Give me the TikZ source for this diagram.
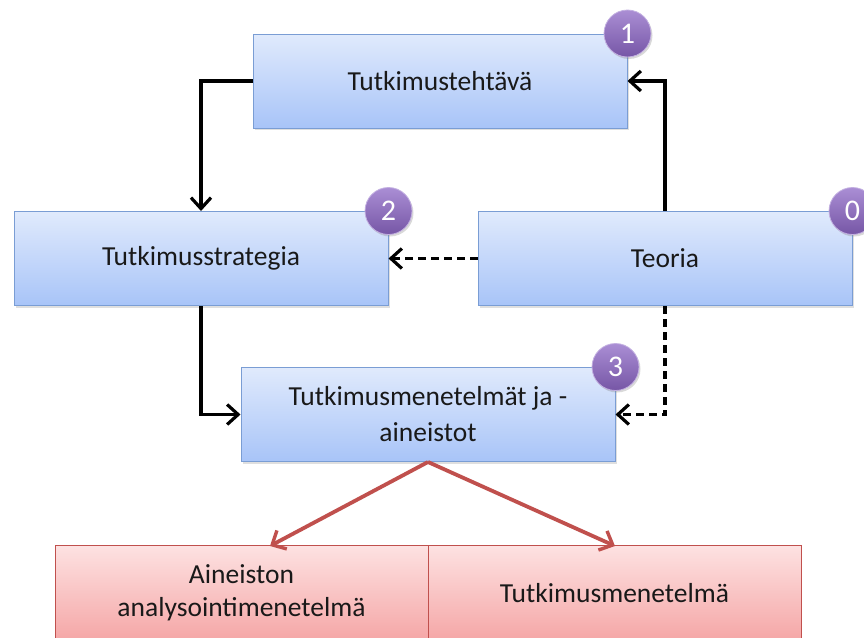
\documentclass[tikz,border=0pt]{standalone}
\usepackage{fontspec}
\setmainfont{Carlito}
\usetikzlibrary{arrows.meta,shadows}

\definecolor{boxtop}{HTML}{E0EAFC}
\definecolor{boxbot}{HTML}{A8C4F8}
\definecolor{boxline}{HTML}{7A9DD4}
\definecolor{redtop}{HTML}{FDE2E2}
\definecolor{redbot}{HTML}{F5A6A6}
\definecolor{redline}{HTML}{C0504D}
\definecolor{redarrow}{HTML}{C0504D}
\definecolor{badgetop}{HTML}{AA8ED4}
\definecolor{badgebot}{HTML}{7656A6}

\tikzset{
  bluebox/.style={draw=boxline, line width=1pt, top color=boxtop, bottom color=boxbot,
    minimum width=374pt, minimum height=94pt, inner sep=0pt, align=center,
    font=\fontsize{27.5}{36}\selectfont, text=black!90,
    drop shadow={opacity=0.25, shadow xshift=1.5pt, shadow yshift=-2pt}},
  redbox/.style={draw=redline, line width=1pt, top color=redtop, bottom color=redbot,
    minimum width=373pt, minimum height=96pt, inner sep=0pt, align=center,
    font=\fontsize{27.5}{33}\selectfont, text=black!90},
  badge/.style={circle, minimum size=47pt, inner sep=0pt, top color=badgetop, bottom color=badgebot,
    draw=badgetop!70!white, line width=0.8pt, text=white, font=\fontsize{30}{32}\selectfont,
    drop shadow={opacity=0.3, shadow xshift=1.5pt, shadow yshift=-2pt}},
  flow/.style={line width=3.4pt, black, -{Straight Barb[length=11pt,width=20pt,line width=3.2pt]}},
  dflow/.style={flow, dash pattern=on 8pt off 5pt},
  split/.style={line width=3.8pt, redarrow, -{Straight Barb[length=11pt,width=21pt,line width=3.4pt]}},
}

\begin{document}
\begin{tikzpicture}[x=1pt, y=-1pt]
  \useasboundingbox (0,0) rectangle (864,637);
  \clip (0,0) rectangle (864,637);

  % main boxes
  \node[bluebox] (task) at (440,81) {Tutkimustehtävä};
  \node[bluebox] (strat) at (201,258.5) {Tutkimusstrategia};
  \node[bluebox] (theory) at (665,258.5) {Teoria};
  \node[bluebox] (meth) at (428,414.5) {Tutkimusmenetelmät ja -\\aineistot};

  % number badges
  \node[badge] (b1) at (task.north east) {1};
  \node[badge] (b2) at (strat.north east) {2};
  \node[badge] (b0) at (theory.north east) {0};
  \node[badge] (b3) at (meth.north east) {3};

  % lower boxes
  \node[redbox] (anal) at (241.5,593) {Aineiston\\analysointimenetelmä};
  \node[redbox] (tmeth) at (614.5,593) {Tutkimusmenetelmä};

  % connectors
  \draw[flow] (task.west) -| (strat.north);
  \draw[flow] (theory.north) |- (task.east);
  \draw[dflow] (theory.west) -- (strat.east);
  \draw[flow] (strat.south) |- (meth.west);
  \draw[dflow] (theory.south) |- (meth.east);

  \coordinate (ltip) at (270,546);
  \coordinate (rtip) at (615,546);
  \draw[split] (meth.south) -- (ltip);
  \draw[split] (meth.south) -- (rtip);
\end{tikzpicture}
\end{document}
